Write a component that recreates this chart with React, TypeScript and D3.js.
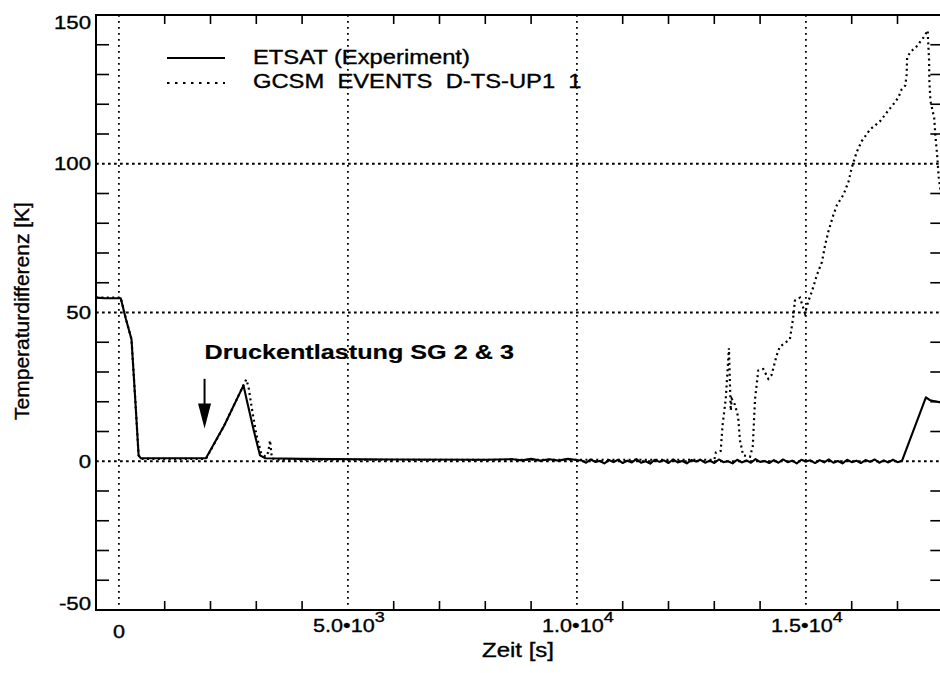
import React from "react";
import * as d3 from "d3";

// ---------- data ----------
const xDomain = [-500, 18000];
const yDomain = [-50, 150];

const xGrid = [0, 5000, 10000, 15000];
const yGrid = [0, 50, 100];

const xTickValues = [0, 5000, 10000, 15000];
const xTickBase = ["0", "5.0•10", "1.0•10", "1.5•10"];
const xTickExp = ["", "3", "4", "4"];

const yTickValues = [-50, 0, 50, 100, 150];
const yTickLabels = ["-50", "0", "50", "100", "150"];

// ETSAT (Experiment) – solid line  [time s, dT K]
const etsat: [number, number][] = [
  [-500, 55], [-300, 54.8], [40, 54.8], [150, 48], [275, 41], [360, 20], [430, 2], [480, 1],
  [1500, 1], [1900, 1], [2300, 12], [2720, 25.5], [2800, 20], [2950, 10], [3080, 2], [3200, 1],
  [4000, 0.8], [6000, 0.6], [8000, 0.5], [8600, 0.7], [8800, 0.3], [9000, 0.8], [9200, 0.2],
  [9400, 0.7], [9600, 0.2], [9800, 0.8], [10000, 0.4],
  [10100, 0.3], [10200, -0.5], [10300, 0.6], [10400, -0.2], [10500, 0.1], [10600, -0.7],
  [10700, 0.4], [10800, -0.3], [10900, 0.5], [11000, -0.6], [11100, 0.2], [11200, -0.4],
  [11300, 0.7], [11400, -0.5], [11500, 0.0], [11600, -0.8], [11700, 0.5], [11800, -0.2],
  [11900, 0.3], [12000, -0.6], [12100, 0.6], [12200, -0.4], [12300, 0.1], [12400, -0.7],
  [12500, 0.4], [12600, -0.1], [12700, 0.5], [12800, -0.5], [12900, 0.2], [13000, -0.6],
  [13100, 0.6], [13200, -0.3], [13300, 0.0], [13400, -0.7], [13500, 0.5], [13600, -0.4],
  [13700, 0.3], [13800, -0.5], [13900, 0.7], [14000, -0.2], [14100, 0.1], [14200, -0.6],
  [14300, 0.4], [14400, -0.5], [14500, 0.6], [14600, -0.3], [14700, 0.2], [14800, -0.7],
  [14900, 0.5], [15000, -0.1], [15100, 0.3], [15200, -0.6], [15300, 0.4], [15400, -0.4],
  [15500, 0.6], [15600, -0.5], [15700, 0.1], [15800, -0.7], [15900, 0.5], [16000, -0.3],
  [16100, 0.2], [16200, -0.6], [16300, 0.4], [16400, -0.2], [16500, 0.6], [16600, -0.5],
  [16700, 0.3], [16800, -0.4], [16900, 0.5], [17000, -0.3], [17100, 0.2],
  [17620, 21.5], [17700, 20.6], [17800, 20.2], [17900, 19.9], [18000, 19.5],
];

// GCSM EVENTS D-TS-UP1 1 – dotted line  [time s, dT K]
const gcsm: [number, number][] = [
  [-500, 55], [40, 55], [150, 48], [275, 41], [360, 20], [430, 2], [480, 0.8], [1900, 0.8],
  [2300, 12], [2780, 27.5], [2830, 25], [2900, 18], [3000, 9], [3100, 3], [3200, 1.5],
  [3260, 3], [3300, 7], [3340, 1], [3450, 0.5], [13000, 0.5], [13035, 3], [13140, 3.5],
  [13180, 12], [13250, 21], [13320, 38], [13345, 24], [13360, 17], [13380, 21], [13450, 19],
  [13520, 15], [13560, 7], [13630, 2], [13780, 1.5], [13840, 5], [13890, 21], [13960, 30.5],
  [14070, 31], [14180, 27.7], [14250, 29], [14360, 35.5], [14430, 38.5], [14650, 41],
  [14720, 48], [14760, 54], [14870, 55], [14980, 49.7], [15050, 53.7], [15130, 57],
  [15240, 62.6], [15350, 67], [15420, 72.7], [15490, 77.2], [15600, 82.8], [15680, 86.2],
  [15820, 89.6], [15930, 94], [16000, 98.6], [16110, 104], [16220, 107.6], [16400, 111.5],
  [16620, 114.3], [16770, 117.3], [16910, 120], [17020, 122.3], [17090, 125], [17170, 126.3],
  [17200, 130], [17210, 135.7], [17280, 137.5], [17420, 139.5], [17570, 142.5], [17660, 144.8],
  [17665, 142.5], [17690, 134.7], [17695, 128], [17720, 121], [17800, 115.5], [17830, 109],
  [17870, 102], [17900, 95.5], [17930, 92], [17980, 85],
];

const legendLabels = ["ETSAT (Experiment)", "GCSM  EVENTS  D-TS-UP1  1"];
const annotationText = "Druckentlastung SG 2 & 3";
const annotationTime = 1870;
const arrowFrom = 27.7;
const arrowTo = 11;
const xLabel = "Zeit [s]";
const yLabel = "Temperaturdifferenz [K]";

// ---------- layout ----------
const W = 940;
const H = 673;
const L = 96;
const R = 943.3;
const T = 15;
const B = 610;
const FONT = "'Liberation Sans', Arial, Helvetica, sans-serif";
const SX = 1.2;

type TP = {
  x: number; y: number; anchor?: string; size: number; weight?: string | number;
  sx?: number; children?: React.ReactNode; pre?: boolean;
};
const Txt = ({ x, y, anchor = "start", size, weight = "normal", sx = SX, children, pre }: TP) => (
  <text
    transform={`translate(${x},${y}) scale(${sx},1)`}
    textAnchor={anchor}
    fontSize={size}
    fontWeight={weight}
    fontFamily={FONT}
    fill="#000"
    stroke="#000"
    strokeWidth={weight === "bold" ? 0.2 : 0.35}
    style={pre ? { whiteSpace: "pre" } : undefined}
  >
    {children}
  </text>
);

export default function App() {
  const x = d3.scaleLinear().domain(xDomain).range([L, R]);
  const y = d3.scaleLinear().domain(yDomain).range([B, T]);
  const line = d3.line<[number, number]>().x((d) => x(d[0])).y((d) => y(d[1]));

  const xMinor = d3.range(1000, 18000, 1000).filter((v) => v % 5000 !== 0);
  const yMinor = d3.range(-40, 150, 10).filter((v) => !yGrid.includes(v));

  const ax = x(annotationTime);

  return (
    <svg width={W} height={H} style={{ position: "absolute", left: 0, top: 0, background: "#fff" }}>
      <defs>
        <clipPath id="plot">
          <rect x={L} y={T} width={R - L} height={B - T} />
        </clipPath>
      </defs>
      <rect x={0} y={0} width={W} height={H} fill="#fff" />

      {/* grid */}
      {xGrid.map((v) => (
        <line key={"gx" + v} x1={x(v)} x2={x(v)} y1={T} y2={B} stroke="#000" strokeWidth={1.8} strokeDasharray="1.8,4.2" />
      ))}
      {yGrid.map((v) => (
        <line key={"gy" + v} x1={L} x2={R} y1={y(v)} y2={y(v)} stroke="#000" strokeWidth={1.8} strokeDasharray="2.7,3.3" />
      ))}

      {/* ticks */}
      {xMinor.map((v) => (
        <g key={"tx" + v}>
          <line x1={x(v)} x2={x(v)} y1={B} y2={B - 9} stroke="#000" strokeWidth={1.6} />
          <line x1={x(v)} x2={x(v)} y1={T} y2={T + 9} stroke="#000" strokeWidth={1.6} />
        </g>
      ))}
      {yMinor.map((v) => (
        <g key={"ty" + v}>
          <line x1={L} x2={L + 13} y1={y(v)} y2={y(v)} stroke="#000" strokeWidth={1.6} />
          <line x1={R} x2={R - 13} y1={y(v)} y2={y(v)} stroke="#000" strokeWidth={1.6} />
        </g>
      ))}

      {/* data */}
      <g clipPath="url(#plot)">
        <path d={line(gcsm) || ""} fill="none" stroke="#000" strokeWidth={2.2} strokeDasharray="2,3.4" strokeLinecap="butt" />
        <path d={line(etsat) || ""} fill="none" stroke="#000" strokeWidth={2.1} strokeLinejoin="round" />
      </g>

      {/* frame */}
      <rect x={L} y={T} width={R - L} height={B - T} fill="none" stroke="#000" strokeWidth={2} />

      {/* y tick labels */}
      {yTickValues.map((v, i) => {
        const cy = Math.min(Math.max(y(v), T + 7), B - 7);
        return (
          <Txt key={"yl" + v} x={91} y={cy + 6.5} anchor="end" size={18.5}>
            {yTickLabels[i]}
          </Txt>
        );
      })}

      {/* x tick labels */}
      {xTickValues.map((v, i) => (
        <Txt key={"xl" + v} x={x(v) + (xTickExp[i] ? 1 : 0)} y={v === 0 ? 638 : 632} anchor="middle" size={18}>
          {xTickBase[i]}
          {xTickExp[i] ? (
            <tspan fontSize={15} dy={-10}>{xTickExp[i]}</tspan>
          ) : null}
        </Txt>
      ))}

      {/* axis titles */}
      <Txt x={518} y={657} anchor="middle" size={20}>{xLabel}</Txt>
      <text
        transform="translate(29,311) rotate(-90)"
        textAnchor="middle"
        fontSize={21}
        fontFamily={FONT}
        fill="#000"
        stroke="#000"
        strokeWidth={0.35}
      >
        {yLabel}
      </text>

      {/* legend */}
      <line x1={167} x2={225} y1={58} y2={58} stroke="#000" strokeWidth={2} />
      <Txt x={253} y={64} size={19.8}>{legendLabels[0]}</Txt>
      <line x1={167} x2={225} y1={83} y2={83} stroke="#000" strokeWidth={2.2} strokeDasharray="2.5,5.5" />
      <Txt x={253} y={88} size={19.8} pre>{legendLabels[1]}</Txt>

      {/* annotation */}
      <Txt x={ax} y={359} size={21} weight="bold">{annotationText}</Txt>
      <line x1={ax} x2={ax} y1={y(arrowFrom)} y2={y(arrowTo) - 20} stroke="#000" strokeWidth={2} />
      <polygon
        points={`${ax - 6.5},${y(arrowTo) - 25} ${ax + 6.5},${y(arrowTo) - 25} ${ax},${y(arrowTo)}`}
        fill="#000"
      />
    </svg>
  );
}
